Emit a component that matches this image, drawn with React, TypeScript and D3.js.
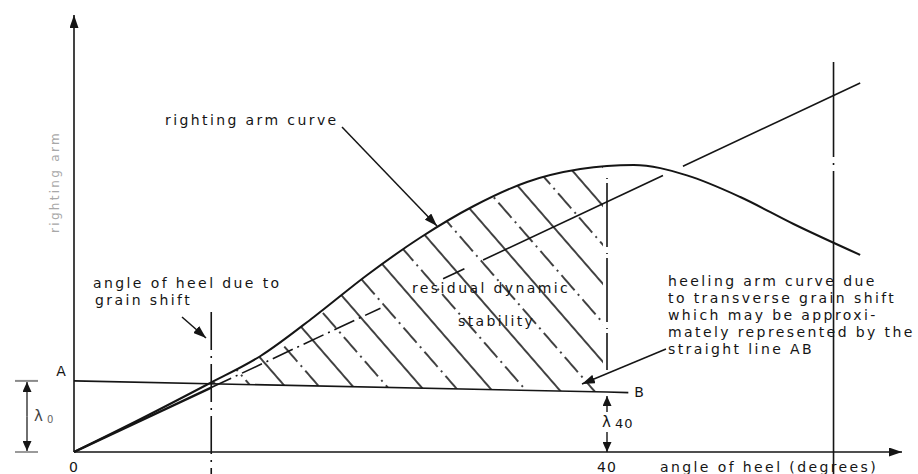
import * as d3 from 'd3';

const width = 918;
const height = 474;

// righting arm (GZ) curve
const heelAngles = [0, 5, 10, 14, 18, 22, 26, 30, 34, 38, 42, 46, 50, 54, 59];
const rightingArm = [0, 0.11, 0.225, 0.32, 0.45, 0.59, 0.715, 0.82, 0.9, 0.943, 0.957, 0.922, 0.85, 0.76, 0.657];

// heeling arm line A-B (lambda0 at 0 deg, lambda40 at 40 deg)
const heelingAngles = [0, 40, 41.6];
const heelingArm = [0.237, 0.2, 0.198];

// initial GM line from the origin
const gmAngles = [0, 59];
const gmArm = [0, 1.23];
// pieces of the GM line that are actually drawn [from, to, dashed?]
const gmPieces: [number, number, boolean][] = [
  [0, 10.3, false],
  [10.3, 23, true],
  [27.7, 29.3, false],
  [30.7, 44.2, false],
  [45.7, 59, false],
];

const heelAngle = 10.3; // angle of heel due to grain shift
const radianAngle = 57; // 57.3 deg marker
const checkAngle = 40;

const tickAngles = [0, 40];
const tickLabels = ['0', '40'];

const noteLines = [
  'heeling arm curve due',
  'to transverse grain shift',
  'which may be approxi-',
  'mately represented by the',
  'straight line AB',
];

const ink = '#151515';
const font = { fontFamily: '"DejaVu Sans", sans-serif', fontSize: 14, letterSpacing: 2.4, fill: ink };

export default function App() {
  const x = d3.scaleLinear().domain([0, 40]).range([74, 607]);
  const y = d3.scaleLinear().domain([0, 1]).range([452, 152]);

  const gz = heelAngles.map((a, i) => [a, rightingArm[i]] as [number, number]);
  const ab = heelingAngles.map((a, i) => [a, heelingArm[i]] as [number, number]);
  const gm = d3.scaleLinear().domain(gmAngles).range(gmArm);
  const abAt = d3.scaleLinear().domain(heelingAngles.slice(0, 2)).range(heelingArm.slice(0, 2));

  const line = d3
    .line<[number, number]>()
    .x((d) => x(d[0]))
    .y((d) => y(d[1]))
    .curve(d3.curveMonotoneX);

  const straight = d3
    .line<[number, number]>()
    .x((d) => x(d[0]))
    .y((d) => y(d[1]));

  // region between the righting arm curve and line AB
  const region = d3
    .area<[number, number]>()
    .x((d) => x(d[0]))
    .y0((d) => y(abAt(d[0])))
    .y1((d) => y(d[1]))
    .curve(d3.curveMonotoneX);

  const spacing = 25.6;
  const x0 = x(0);
  const yAxisTop = 15;
  const xAxisEnd = 902;

  return (
    <svg
      width={width}
      height={height}
      style={{ position: 'absolute', left: 0, top: 0, background: '#fff' }}
    >
      <defs>
        <marker id="arrow" viewBox="0 0 13 9" refX="13" refY="4.5" markerWidth="13" markerHeight="9" markerUnits="userSpaceOnUse" orient="auto">
          <path d="M0,0 L13,4.5 L0,9 z" fill={ink} />
        </marker>
        <marker id="arrowSmall" viewBox="0 0 10 9" refX="10" refY="4.5" markerWidth="10" markerHeight="9" markerUnits="userSpaceOnUse" orient="auto">
          <path d="M0,0 L10,4.5 L0,9 z" fill={ink} />
        </marker>
        <pattern id="hatch" patternUnits="userSpaceOnUse" width={spacing * 2} height={32} patternTransform="rotate(-41)">
          <line x1={spacing / 2} y1={0} x2={spacing / 2} y2={32} stroke={ink} strokeWidth={1.6} />
          <line x1={spacing * 1.5} y1={0} x2={spacing * 1.5} y2={32} stroke={ink} strokeWidth={1.6} strokeDasharray="20 5 2 5" />
        </pattern>
        <clipPath id="between">
          <rect x={x(heelAngle)} y={0} width={x(checkAngle) - x(heelAngle) - 4} height={height} />
        </clipPath>
        <clipPath id="underCurve">
          <path d={region(gz) || ''} />
        </clipPath>
      </defs>

      {/* hatched residual dynamic stability */}
      <g clipPath="url(#between)">
        <rect x={0} y={0} width={width} height={height} fill="url(#hatch)" clipPath="url(#underCurve)" />
      </g>

      {/* axes */}
      <line x1={x0} y1={y(0)} x2={x0} y2={yAxisTop} stroke={ink} strokeWidth={1.6} markerEnd="url(#arrow)" />
      <line x1={x0} y1={y(0)} x2={xAxisEnd} y2={y(0)} stroke={ink} strokeWidth={1.6} markerEnd="url(#arrow)" />

      {/* righting arm curve */}
      <path d={line(gz) || ''} fill="none" stroke={ink} strokeWidth={2} />

      {/* heeling arm line AB */}
      <path d={straight(ab) || ''} fill="none" stroke={ink} strokeWidth={1.6} />

      {/* GM line pieces */}
      {gmPieces.map(([a, b, dashed], i) => (
        <line
          key={i}
          x1={x(a)}
          y1={y(gm(a))}
          x2={x(b)}
          y2={y(gm(b))}
          stroke={ink}
          strokeWidth={i === 0 ? 2.4 : 1.6}
          strokeDasharray={dashed ? '22 5 2 5' : undefined}
        />
      ))}

      {/* vertical at angle of heel due to grain shift */}
      <line x1={x(heelAngle)} y1={312} x2={x(heelAngle)} y2={height} stroke={ink} strokeWidth={1.6} strokeDasharray="38 6 2 6" />
      {/* vertical at 57.3 deg */}
      <line x1={x(radianAngle)} y1={62} x2={x(radianAngle)} y2={height} stroke={ink} strokeWidth={1.6} strokeDasharray="95 6 2 6 400" />
      {/* vertical at 40 deg closing the hatched area */}
      <line x1={x(checkAngle)} y1={y(0.913)} x2={x(checkAngle)} y2={y(abAt(checkAngle)) - 22} stroke={ink} strokeWidth={1.6} strokeDasharray="1 4 64 6" />

      {/* lambda40 dimension */}
      <line x1={x(checkAngle)} y1={y(abAt(checkAngle)) + 20} x2={x(checkAngle)} y2={y(abAt(checkAngle)) + 4} stroke={ink} strokeWidth={1.4} markerEnd="url(#arrowSmall)" />
      <line x1={x(checkAngle)} y1={y(0) - 20} x2={x(checkAngle)} y2={y(0)} stroke={ink} strokeWidth={1.4} markerEnd="url(#arrowSmall)" />
      <text x={x(checkAngle) - 5} y={427} {...font} fontSize={15} letterSpacing={0}>λ</text>
      <text x={x(checkAngle) + 8} y={428} {...font} fontSize={13} letterSpacing={1}>40</text>

      {/* lambda0 dimension */}
      <line x1={15} y1={y(heelingArm[0])} x2={38} y2={y(heelingArm[0])} stroke="#8a8a8a" strokeWidth={2} />
      <line x1={15} y1={y(0)} x2={38} y2={y(0)} stroke="#9a9a9a" strokeWidth={2} />
      <line x1={27} y1={(y(0) + y(heelingArm[0])) / 2} x2={27} y2={y(heelingArm[0]) + 1} stroke="#333" strokeWidth={1.4} markerEnd="url(#arrowSmall)" />
      <line x1={27} y1={(y(0) + y(heelingArm[0])) / 2} x2={27} y2={y(0) - 1} stroke="#333" strokeWidth={1.4} markerEnd="url(#arrowSmall)" />
      <text x={34} y={421} {...font} fill="#444" fontSize={15} letterSpacing={0}>λ</text>
      <text x={47} y={423} {...font} fill="#666" fontSize={10} letterSpacing={0}>0</text>

      {/* leader arrows */}
      <line x1={342} y1={127} x2={437} y2={226} stroke={ink} strokeWidth={1.5} markerEnd="url(#arrow)" />
      <line x1={182} y1={317} x2={206} y2={338} stroke={ink} strokeWidth={1.5} markerEnd="url(#arrow)" />
      <line x1={666} y1={349} x2={582} y2={384} stroke={ink} strokeWidth={1.5} markerEnd="url(#arrow)" />

      {/* labels */}
      <text x={165} y={125} {...font}>righting arm curve</text>
      <text x={93} y={288} {...font}>angle of heel due to</text>
      <text x={95} y={305} {...font}>grain shift</text>
      <text x={412} y={293} {...font}>residual dynamic</text>
      <text x={458} y={326} {...font}>stability</text>
      {noteLines.map((t, i) => (
        <text key={t} x={668} y={286 + i * 17} {...font}>
          {t}
        </text>
      ))}
      <text x={61} y={376} {...font} letterSpacing={0} textAnchor="middle">A</text>
      <text x={x(heelingAngles[2]) + 6} y={397} {...font} letterSpacing={0}>B</text>
      {tickAngles.map((a, i) => (
        <text key={a} x={x(a)} y={472} {...font} letterSpacing={1} textAnchor="middle">
          {tickLabels[i]}
        </text>
      ))}
      <text x={660} y={472} {...font}>angle of heel (degrees)</text>
      <text
        transform="translate(59,182) rotate(-90)"
        textAnchor="middle"
        fontFamily='"DejaVu Sans", sans-serif'
        fontSize={12}
        letterSpacing={2.3}
        fill="#a8a8a8"
      >
        righting arm
      </text>
    </svg>
  );
}
